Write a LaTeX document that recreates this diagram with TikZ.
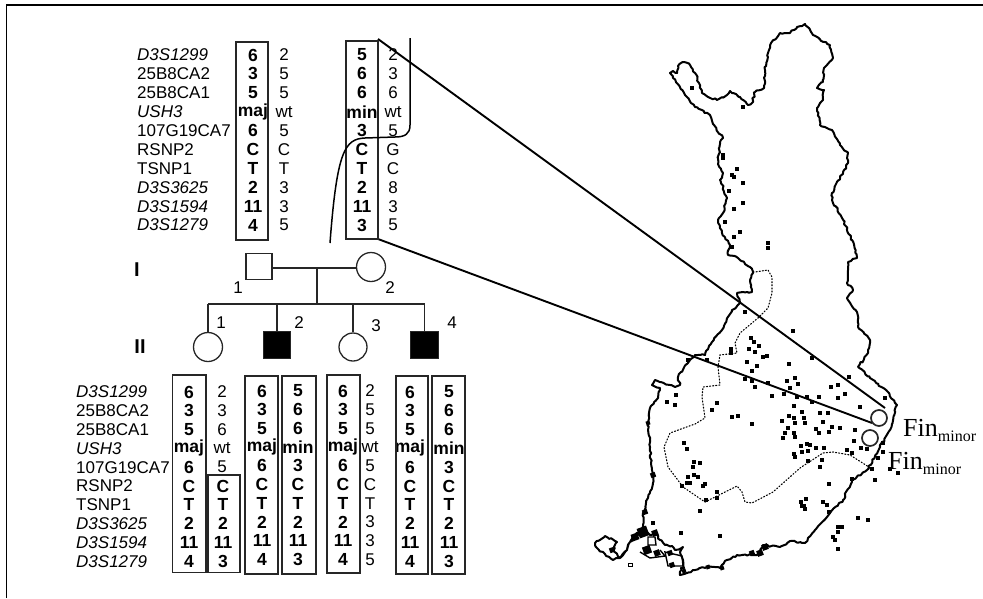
\documentclass[tikz,border=0pt]{standalone}
\usepackage{fontspec}
\setmainfont{Liberation Sans}
\newfontfamily\finfont{Liberation Serif}
\usepackage{tikz}
\usetikzlibrary{positioning,decorations.pathmorphing}

\newcommand{\finminor}{{\fontsize{26}{26}\selectfont Fin}\raisebox{-5pt}{\fontsize{16}{16}\selectfont minor}}

\begin{document}
\begin{tikzpicture}[
      x=1pt, y=-1pt,
      cell/.style={font=\fontsize{17}{17}\selectfont, inner sep=0pt, anchor=center},
      boldcell/.style={cell, font=\fontsize{17.5}{17.5}\selectfont\bfseries},
      lbl/.style={cell, anchor=west},
      marker/.style={cell, anchor=west, font=\fontsize{17}{17}\selectfont\itshape},
      gen/.style={cell, font=\fontsize{20}{20}\selectfont\bfseries},
      hapbox/.style={draw=black!85, line width=1.4pt, fill=none},
      ped/.style={draw=black!85, line width=1.3pt},
      indiv/.style={ped, fill=white, inner sep=0pt},
      spot/.style={fill=black, inner sep=0pt, minimum size=3.6pt},
      blob/.style={fill=black, inner sep=0pt, rectangle},
      coast/.style={line width=2pt, line join=round,
                    decorate, decoration={random steps, segment length=2.5pt, amplitude=1pt}},
      fin/.style={font=\finfont, inner sep=0pt, anchor=base west},
      zoomline/.style={line width=1.9pt},
    ]
    \useasboundingbox (0,0) rectangle (983,598);
    \pgfmathsetseed{42}

    % ---------- frame ----------
    \draw[line width=1.6pt] (6.5,598) -- (6.5,5) -- (983,5);

    % ---------- map ----------
    \draw[coast]
      (670,73) -- (673,71) -- (677,73) -- (678,66) -- (684,62) -- (690,65) -- (695,73)
      -- (699,83) -- (702,93) -- (708,97) -- (717,100) -- (727,95) -- (730,91) -- (740,97)
      -- (748,105) -- (752,103) -- (755,92) -- (764,88) -- (765,70) -- (768,53) -- (771,43)
      -- (780,33) -- (790,33) -- (797,27) -- (805,24) -- (813,35) -- (830,45) -- (833,58)
      -- (824,68) -- (823,82) -- (817,88) -- (824,90) -- (823,100) -- (817,108) -- (820,125)
      -- (832,130) -- (840,145) -- (848,153) -- (848,163) -- (832,193) -- (832,200)
      -- (842,218) -- (852,240) -- (857,258) -- (848,262) -- (848,270) -- (847,283)
      -- (853,290) -- (847,298) -- (857,312) -- (858,327) -- (870,340) -- (868,353)
      -- (858,367) -- (870,378) -- (888,392) -- (897,405) -- (890,430) -- (880,447)
      -- (867,470) -- (852,480) -- (843,500) -- (830,513) -- (808,538) -- (805,543)
      -- (790,541) -- (780,547) -- (763,545) -- (757,555) -- (737,555) -- (727,560)
      -- (720,568) -- (707,567) -- (693,570) -- (687,573) -- (680,575) -- (681,568)
      -- (684,568) -- (683,560) -- (680,552) -- (683,547) -- (675,550) -- (672,546)
      -- (665,545) -- (660,540) -- (655,533) -- (650,535) -- (643,530)
      -- (635,535) -- (630,542) -- (627,550) -- (620,558) -- (613,560) -- (597,548) -- (595,543)
      -- (605,536) -- (617,542) -- (613,550) -- (620,558) -- (627,550) -- (630,542) -- (643,530) -- (643,513)
      -- (648,498) -- (653,483) -- (652,470) -- (650,447) -- (648,423) -- (650,408)
      -- (658,398) -- (660,388) -- (652,385) -- (655,380) -- (675,387) -- (680,385)
      -- (678,377) -- (690,360) -- (695,355) -- (705,355) -- (712,342) -- (722,330)
      -- (732,310) -- (740,303) -- (737,293) -- (752,292) -- (750,280) -- (753,273)
      -- (750,267) -- (738,258) -- (728,255) -- (730,245) -- (722,233) -- (718,220)
      -- (723,213) -- (727,198) -- (720,180) -- (723,173) -- (718,164) -- (720,142)
      -- (723,138) -- (714,125) -- (710,115) -- (695,107) -- (685,95) -- (673,78) -- cycle;
    % islands of the south-west
    \draw[line width=1.4pt] (648,537) -- (655,537) -- (656,545) -- (648,545) -- cycle;
    \draw[line width=1.4pt] (665,552) -- (682,556) -- (683,566) -- (668,566) -- cycle;
    \draw[line width=1.4pt] (640,552) -- (650,558) -- (665,556) -- (660,550);
    \draw[line width=1pt] (628,563) rectangle (632,566);
    \foreach \px/\py/\d in {643/532/10, 635/537/7, 655/533/6, 647/550/8, 657/553/6, 670/553/5,
        612/550/5, 653/475/5, 645/512/5, 672/565/5, 708/567/4, 722/568/4, 752/553/5, 760/553/6,
        765/547/6, 648/423/4, 684/571/4}
      \node[blob, minimum size=\d pt, rotate=20] at (\px,\py) {};
    % lake district
    \draw[line width=1.1pt, dotted, line cap=round]
      (753,272) -- (755,272) -- (768,270) -- (772,277) -- (772,293)
      -- (768,308) -- (758,318) -- (740,333) -- (735,343) -- (737,353) -- (720,355)
      -- (718,367) -- (720,385) -- (703,387) -- (702,397) -- (705,418) -- (695,424)
      -- (670,433) -- (664,447) -- (668,467) -- (683,487) -- (705,502) -- (737,486)
      -- (742,492) -- (745,502) -- (752,503) -- (773,492) -- (800,468) -- (823,453)
      -- (833,452) -- (850,455) -- (872,469);
    % sampled families
    \foreach \px/\py in {692/88, 743/107, 723/155, 723/158, 737/169, 732/175, 734/177,
        743/183, 729/191, 743/203, 734/209, 725/222, 740/232, 734/237, 732/247, 768/243,
        768/248, 745/312, 793/331, 751/338, 754/342, 759/346, 749/349, 755/352, 731/349,
        731/353, 767/356, 763/357, 812/358, 789/364, 747/362, 757/366, 752/371, 707/360,
        688/360, 849/377, 745/379, 752/381, 768/383, 755/387, 787/381, 795/378, 798/384,
        790/388, 838/385, 831/387, 845/394, 838/398, 772/396, 784/394, 797/397, 807/397,
        812/402, 819/397, 885/398, 860/407, 794/406, 676/395, 667/402, 675/405, 717/403,
        712/410, 732/417, 738/416, 752/424, 782/421, 789/416, 794/418, 802/412, 804/418,
        805/423, 795/423, 820/413, 828/413, 823/422, 816/429, 819/433, 829/432, 832/427,
        840/428, 855/430, 788/428, 785/433, 783/438, 794/433, 795/437, 854/441, 801/446,
        807/444, 810/445, 808/451, 802/452, 816/448, 824/448, 794/454, 795/457, 847/450,
        852/453, 861/448, 867/449, 808/461, 822/460, 820/467, 684/443, 687/449, 694/462,
        700/463, 693/467, 694/475, 698/477, 688/477, 687/483, 690/483, 705/484, 703/486,
        682/486, 829/484, 852/479, 875/480, 878/458, 883/452, 883/443, 872/469, 898/473,
        890/469, 717/492, 706/500, 717/498, 700/511, 801/502, 806/499, 804/506, 805/509,
        802/506, 823/502, 827/505, 829/512, 858/518, 868/520, 838/527, 842/527, 838/532,
        833/537, 835/540, 838/549, 653/523, 681/533, 720/536}
      \node[spot] at (\px,\py) {};

    % ---------- zoom lines ----------
    \coordinate (hapT) at (378,39);
    \coordinate (hapB) at (378,239);
    \coordinate (finT) at (885,408);
    \coordinate (finB) at (872,423);
    \draw[zoomline] (hapT) -- (finT);
    \draw[zoomline] (hapB) -- (finB);

    \node[indiv, circle, minimum size=16pt, line width=1.7pt] (fmajor) at (879,418) {};
    \node[indiv, circle, minimum size=16pt, line width=1.7pt] (fminor) at (870,438) {};
    \node[fin] (t1) at (903,436) {\finminor};
    \node[fin] (t2) at (888,469) {\finminor};

    % ---------- parents' haplotypes ----------
    \foreach \name/\sty [count=\i from 0] in {D3S1299/marker,25B8CA2/lbl,25B8CA1/lbl,USH3/marker,107G19CA7/lbl,RSNP2/lbl,TSNP1/lbl,D3S3625/marker,D3S1594/marker,D3S1279/marker} {
      \node[\sty] at (137,55+18.9*\i) {\name};
      \node[\sty] at (76,392+18.8*\i) {\name};
    }
    \foreach \v [count=\i from 0] in {6,3,5,maj,6,C,T,2,11,4}
      \node[boldcell] at (253,55+18.9*\i) {\v};
    \foreach \v [count=\i from 0] in {2,5,5,wt,5,C,T,3,3,5}
      \node[cell] at (284,55+18.9*\i) {\v};
    \foreach \v [count=\i from 0] in {5,6,6,min,3,C,T,2,11,3}
      \node[boldcell] at (362,55+18.9*\i) {\v};
    \foreach \v [count=\i from 0] in {2,3,6,wt,5,G,C,8,3,5}
      \node[cell] at (393,55+18.9*\i) {\v};
    \draw[hapbox] (236,42) rectangle (268,240);
    \draw[hapbox] (346,41) rectangle (378,239);
    % recombination
    \draw[line width=1.5pt] (410,38) -- (410,125) .. controls (410,134) and (405,137) .. (395,137)
      -- (365,138) .. controls (345,139) and (337,150) .. (330,243);

    % ---------- pedigree ----------
    \node[indiv, rectangle, minimum size=26pt] (f1) at (259,266.5) {};
    \node[indiv, circle, minimum size=29pt] (m1) at (371,267) {};
    \node[indiv, circle, minimum size=29pt] (k1) at (208,347) {};
    \node[indiv, rectangle, minimum size=27.5pt, fill=black] (k2) at (277,345) {};
    \node[indiv, circle, minimum size=28pt] (k3) at (353,347) {};
    \node[indiv, rectangle, minimum size=27.5pt, fill=black] (k4) at (424.5,345) {};
    \coordinate (mid) at (317,268);
    \coordinate (sib) at (317,304);
    \draw[ped] (f1.east |- mid) -- (m1.west |- mid);
    \draw[ped] (mid) -- (sib);
    \draw[ped] (k1.north |- sib) -- (k4.north |- sib);
    \draw[ped] (k1.north |- sib) -- (k1.north);
    \draw[ped] (k2.north |- sib) -- (k2.north);
    \draw[ped] (k3.north |- sib) -- (k3.north);
    \draw[ped] (k4.north |- sib) -- (k4.north);

    \node[gen] at (137,270) {I};
    \node[gen] at (140,347) {II};
    \foreach \px/\py/\t in {238/288/1, 390/288/2, 221/323/1, 299/323/2, 376/326/3, 452/323/4}
      \node[cell] at (\px,\py) {\t};

    % ---------- children's haplotypes ----------
    \foreach \v [count=\i from 0] in {6,3,5,maj,6,C,T,2,11,4}
      \node[boldcell] at (189,392+18.8*\i) {\v};
    \foreach \v [count=\i from 0] in {2,3,6,wt,5}
      \node[cell] at (222,392+18.8*\i) {\v};
    \foreach \v [count=\i from 5] in {C,T,2,11,3}
      \node[boldcell] at (223,392+18.8*\i) {\v};
    \foreach \v [count=\i from 0] in {6,3,5,maj,6,C,T,2,11,4}
      \node[boldcell] at (262,391+18.7*\i) {\v};
    \foreach \v [count=\i from 0] in {5,6,6,min,3,C,T,2,11,3}
      \node[boldcell] at (298,391+18.7*\i) {\v};
    \foreach \v [count=\i from 0] in {6,3,5,maj,6,C,T,2,11,4}
      \node[boldcell] at (343,391+18.7*\i) {\v};
    \foreach \v [count=\i from 0] in {2,5,5,wt,5,C,T,3,3,5}
      \node[cell] at (370,391+18.7*\i) {\v};
    \foreach \v [count=\i from 0] in {6,3,5,maj,6,C,T,2,11,4}
      \node[boldcell] at (410,392+18.8*\i) {\v};
    \foreach \v [count=\i from 0] in {5,6,6,min,3,C,T,2,11,3}
      \node[boldcell] at (449,392+18.8*\i) {\v};
    \draw[hapbox] (172.5,375) rectangle (206,572.5);
    \draw[hapbox] (208,475) rectangle (240,572.5);
    \draw[hapbox] (245,376) rectangle (278,574);
    \draw[hapbox] (282,376) rectangle (316,574);
    \draw[hapbox] (327,375) rectangle (360,573);
    \draw[hapbox] (396,376) rectangle (428,574);
    \draw[hapbox] (432,376) rectangle (465,574);

  \end{tikzpicture}
\end{document}
